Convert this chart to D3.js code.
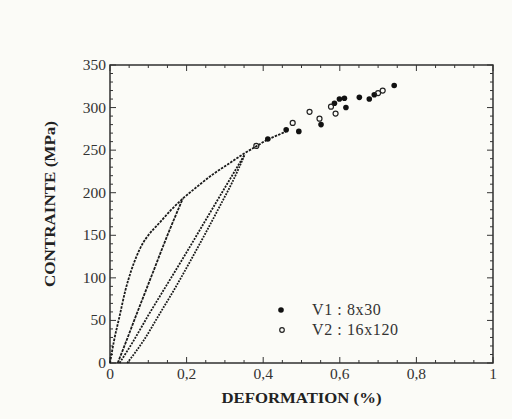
<!DOCTYPE html>
<html>
<head>
<meta charset="utf-8">
<script src="https://cdn.jsdelivr.net/npm/d3@7"></script>
<style>
  body { margin: 0; background: #ffffff; }
  svg { display: block; }
</style>
</head>
<body>
<div id="chart"></div>
<script>
// envelope (monotonic loading curve)
const envStrain = [0, 0.01, 0.025, 0.04, 0.055, 0.07, 0.085, 0.1, 0.13, 0.16, 0.19, 0.23, 0.27, 0.31, 0.35, 0.38, 0.41, 0.44, 0.46];
const envStress = [0, 25, 55, 85, 108, 126, 140, 150, 165, 180, 193, 208, 222, 234, 246, 254, 262, 268, 272];

// first unloading from ~0.19 %
const unload1Strain = [0.19, 0.15, 0.11, 0.07, 0.035, 0.02];
const unload1Stress = [193, 150, 104, 58, 17, 0];

// second unloading / reloading loop from ~0.35 %
const unload2Strain = [0.352, 0.3, 0.25, 0.2, 0.15, 0.1, 0.06, 0.025];
const unload2Stress = [245, 206, 168, 130, 93, 56, 25, 0];
const reload2Strain = [0.045, 0.09, 0.13, 0.17, 0.21, 0.25, 0.29, 0.32, 0.352];
const reload2Stress = [0, 28, 58, 88, 120, 153, 187, 213, 245];

// scatter points after the loops
const v1Strain = [0.412, 0.46, 0.493, 0.551, 0.586, 0.599, 0.612, 0.616, 0.651, 0.677, 0.69, 0.742];
const v1Stress = [263, 274, 272, 280, 305, 310, 311, 300, 312, 310, 315, 326];
const v2Strain = [0.382, 0.477, 0.521, 0.547, 0.577, 0.589, 0.70, 0.712];
const v2Stress = [255, 282, 295, 287, 301, 293, 317, 320];

const xTicks = [0, 0.2, 0.4, 0.6, 0.8, 1];
const xTickLabels = ["0", "0,2", "0,4", "0,6", "0,8", "1"];
const yTicks = [0, 50, 100, 150, 200, 250, 300, 350];

const legendLabels = ["V1 : 8x30", "V2 : 16x120"];

const width = 512, height = 419;
const margin = { left: 110, right: 19, top: 65, bottom: 56 };

const svg = d3.select("#chart").append("svg")
    .attr("width", width)
    .attr("height", height);

svg.append("rect").attr("width", width).attr("height", height).attr("fill", "#fbfbf7");

const x = d3.scaleLinear().domain([0, 1]).range([margin.left, width - margin.right]);
const y = d3.scaleLinear().domain([0, 350]).range([height - margin.bottom, margin.top]);

const serif = "'Liberation Serif', 'Times New Roman', serif";

// frame
svg.append("rect")
    .attr("x", x(0)).attr("y", y(350))
    .attr("width", x(1) - x(0)).attr("height", y(0) - y(350))
    .attr("fill", "none").attr("stroke", "#222").attr("stroke-width", 1.4);

// inward ticks on all four sides
const xMinor = d3.range(0, 1.0001, 0.05);
const yMinor = d3.range(0, 350.01, 10);

const tickG = svg.append("g").attr("stroke", "#333");
xMinor.forEach(v => {
    const len = xTicks.some(t => Math.abs(t - v) < 1e-6) ? 6 : 3;
    tickG.append("line").attr("x1", x(v)).attr("x2", x(v)).attr("y1", y(0)).attr("y2", y(0) - len).attr("stroke-width", 1);
    tickG.append("line").attr("x1", x(v)).attr("x2", x(v)).attr("y1", y(350)).attr("y2", y(350) + len).attr("stroke-width", 1);
});
yMinor.forEach(v => {
    const len = yTicks.includes(Math.round(v)) ? 6 : 3;
    tickG.append("line").attr("x1", x(0)).attr("x2", x(0) + len).attr("y1", y(v)).attr("y2", y(v)).attr("stroke-width", 1);
    tickG.append("line").attr("x1", x(1)).attr("x2", x(1) - len).attr("y1", y(v)).attr("y2", y(v)).attr("stroke-width", 1);
});

// tick labels
svg.append("g").selectAll("text")
    .data(xTicks)
    .enter().append("text")
    .attr("x", d => x(d))
    .attr("y", y(0) + 16)
    .attr("text-anchor", "middle")
    .attr("font-family", serif)
    .attr("font-size", 15.5)
    .attr("fill", "#333")
    .text((d, i) => xTickLabels[i]);

svg.append("g").selectAll("text")
    .data(yTicks)
    .enter().append("text")
    .attr("x", x(0) - 4)
    .attr("y", d => y(d) + 5)
    .attr("text-anchor", "end")
    .attr("font-family", serif)
    .attr("font-size", 15.5)
    .attr("fill", "#333")
    .text(d => d);

// axis titles
svg.append("text")
    .attr("x", (x(0) + x(1)) / 2)
    .attr("y", 403)
    .attr("text-anchor", "middle")
    .attr("font-family", serif)
    .attr("font-weight", "bold")
    .attr("font-size", 14)
    .attr("fill", "#222")
    .attr("textLength", 160)
    .attr("lengthAdjust", "spacingAndGlyphs")
    .text("DEFORMATION (%)");

svg.append("text")
    .attr("transform", `translate(55, 204) rotate(-90)`)
    .attr("text-anchor", "middle")
    .attr("font-family", serif)
    .attr("font-weight", "bold")
    .attr("font-size", 14)
    .attr("fill", "#222")
    .attr("textLength", 166)
    .attr("lengthAdjust", "spacingAndGlyphs")
    .text("CONTRAINTE (MPa)");

// curves
const line = d3.line().x(d => x(d[0])).y(d => y(d[1])).curve(d3.curveMonotoneX);
const pairs = (xs, ys) => xs.map((v, i) => [v, ys[i]]);

const curves = [
    { pts: pairs(envStrain, envStress), dash: "2.5,1.2" },
    { pts: pairs(unload1Strain, unload1Stress).reverse(), dash: "3,1" },
    { pts: pairs(unload2Strain, unload2Stress).reverse(), dash: "2,1.2" },
    { pts: pairs(reload2Strain, reload2Stress), dash: "1.8,1.2" }
];

svg.append("g").selectAll("path")
    .data(curves)
    .enter().append("path")
    .attr("d", d => line(d.pts))
    .attr("fill", "none")
    .attr("stroke", "#1a1a1a")
    .attr("stroke-width", 1.8)
    .attr("stroke-dasharray", d => d.dash);

// scatter
svg.append("g").selectAll("circle")
    .data(pairs(v1Strain, v1Stress))
    .enter().append("circle")
    .attr("cx", d => x(d[0]))
    .attr("cy", d => y(d[1]))
    .attr("r", 2.8)
    .attr("fill", "#111");

svg.append("g").selectAll("circle")
    .data(pairs(v2Strain, v2Stress))
    .enter().append("circle")
    .attr("cx", d => x(d[0]))
    .attr("cy", d => y(d[1]))
    .attr("r", 2.5)
    .attr("fill", "none")
    .attr("stroke", "#222")
    .attr("stroke-width", 1.2);

// legend
const legend = svg.append("g").attr("transform", "translate(281, 310)");
legend.append("circle").attr("cx", 0).attr("cy", 0).attr("r", 2.8).attr("fill", "#111");
legend.append("circle").attr("cx", 1).attr("cy", 20).attr("r", 2.3).attr("fill", "none").attr("stroke", "#222").attr("stroke-width", 1.2);
legend.selectAll("text")
    .data(legendLabels)
    .enter().append("text")
    .attr("x", 31)
    .attr("y", (d, i) => i * 20 + 5)
    .attr("font-family", serif)
    .attr("font-size", 16)
    .attr("letter-spacing", 0.6)
    .attr("fill", "#333")
    .text(d => d);
</script>
</body>
</html>
